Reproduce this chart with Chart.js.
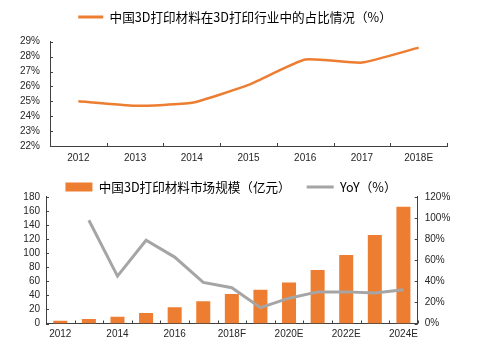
<!DOCTYPE html>
<html>
<head>
<meta charset="utf-8">
<script src="https://cdn.jsdelivr.net/npm/chart.js@4"></script>
<style>
  body { margin: 0; background: #fff; }
  #wrap { position: relative; width: 480px; height: 345px; }
  #top { position: absolute; left: 0; top: 0; }
  #bottom { position: absolute; left: 0; top: 172px; }
</style>
</head>
<body>
<div id="wrap">
  <canvas id="top" width="480" height="172"></canvas>
  <canvas id="bottom" width="480" height="173"></canvas>
</div>
<script>
// top chart: share of materials in the 3D printing industry (%)
const shareYears = ['2012', '2013', '2014', '2015', '2016', '2017', '2018E'];
const shareValues = [25.0, 24.7, 24.9, 26.1, 27.8, 27.6, 28.6];

// bottom chart: market size (100m yuan) and YoY (%)
const sizeYears = ['2012', '2013', '2014', '2015', '2016', '2017', '2018F', '2019E',
  '2020E', '2021E', '2022E', '2023E', '2024E'];
const sizeValues = [4, 6.5, 9.5, 15, 23, 31.5, 42, 48, 58.5, 76, 97.5, 126, 166];
const yoyValues = [null, 98, 45, 79, 63, 39, 34, 15, 24, 30, 30, 29, 32];

const orange = '#ED7D31';
const gray = '#A5A5A5';
const axisColor = '#404040';
const tickFont = { family: '"Liberation Sans", Arial, sans-serif', size: 10 };
const legendFont = { family: '"Noto Sans CJK SC", sans-serif', size: 12.6 };

Chart.defaults.animation = false;
Chart.defaults.color = '#262626';

// fixed legend height so the plot area lands where the reference has it,
// plus a small sideways nudge of the legend row
const legendBox = (h, dx) => ({
    id: 'legendBox',
    beforeInit(chart) {
        const fit = chart.legend.fit;
        chart.legend.fit = function () {
            fit.call(this);
            this.height = h;
        };
    },
    afterLayout(chart) {
        chart.legend.left += dx;
        chart.legend.right += dx;
    },
});

// short tick marks pointing into the plot
const innerTicks = {
    id: 'innerTicks',
    afterDraw(chart) {
        const ctx = chart.ctx;
        const { bottom, left, right } = chart.chartArea;
        const len = 3;
        ctx.save();
        ctx.strokeStyle = axisColor;
        ctx.lineWidth = 1;
        ctx.beginPath();
        const x = chart.scales.x;
        const n = chart.data.labels.length;
        for (let i = 0; i <= n; i++) {
            const px = Math.round(x.getPixelForValue(i - 0.5)) + 0.5;
            ctx.moveTo(px, bottom);
            ctx.lineTo(px, bottom - len);
        }
        Object.values(chart.scales).forEach((s) => {
            if (s.axis !== 'y') return;
            s.ticks.forEach((t) => {
                const py = Math.round(s.getPixelForValue(t.value)) + 0.5;
                if (s.position === 'left') {
                    ctx.moveTo(left, py);
                    ctx.lineTo(left + len, py);
                } else {
                    ctx.moveTo(right, py);
                    ctx.lineTo(right - len, py);
                }
            });
        });
        ctx.stroke();
        ctx.restore();
    },
};

const fixedWidth = (w) => (scale) => { scale.width = w; };
const fixedHeight = (h) => (scale) => { scale.height = h; };

new Chart(document.getElementById('top'), {
    type: 'line',
    data: {
        labels: shareYears,
        datasets: [{
            label: '中国3D打印材料在3D打印行业中的占比情况（%）',
            data: shareValues,
            borderColor: orange,
            backgroundColor: orange,
            borderWidth: 2.5,
            pointRadius: 0,
            tension: 0.15,
        }],
    },
    options: {
        responsive: false,
        layout: { padding: { left: 10, right: 33, top: 0, bottom: 0 } },
        plugins: {
            tooltip: { enabled: false },
            legend: {
                labels: {
                    font: legendFont,
                    color: '#262626',
                    padding: 10.7,
                    usePointStyle: true,
                    pointStyleWidth: 25,
                    generateLabels: (chart) => [{
                        text: chart.data.datasets[0].label,
                        fillStyle: orange,
                        strokeStyle: orange,
                        lineWidth: 3,
                        pointStyle: 'line',
                        datasetIndex: 0,
                    }],
                },
            },
        },
        scales: {
            x: {
                offset: true,
                grid: { display: false, drawTicks: false },
                border: { color: axisColor },
                ticks: { font: tickFont, padding: 6, maxRotation: 0 },
                afterFit: fixedHeight(26),
            },
            y: {
                min: 22,
                max: 29,
                grid: { display: false, drawTicks: false },
                border: { color: axisColor },
                ticks: {
                    font: tickFont, padding: 10, stepSize: 1, autoSkip: false,
                    callback: (v) => v + '%',
                },
                afterFit: fixedWidth(40),
            },
        },
    },
    plugins: [legendBox(41.7, 6.5), innerTicks],
});

new Chart(document.getElementById('bottom'), {
    type: 'bar',
    data: {
        labels: sizeYears,
        datasets: [{
            label: '中国3D打印材料市场规模（亿元）',
            data: sizeValues,
            backgroundColor: orange,
            borderWidth: 0,
            barPercentage: 0.98,
            categoryPercentage: 0.5,
            yAxisID: 'y',
            order: 1,
        }, {
            type: 'line',
            label: 'YoY（%）',
            data: yoyValues,
            borderColor: gray,
            backgroundColor: gray,
            borderWidth: 3,
            pointRadius: 0,
            tension: 0,
            yAxisID: 'y1',
            order: 0,
        }],
    },
    options: {
        responsive: false,
        layout: { padding: { left: 6, right: 30, top: -7.3, bottom: 0 } },
        plugins: {
            tooltip: { enabled: false },
            legend: {
                labels: {
                    font: legendFont,
                    color: '#262626',
                    padding: 16,
                    usePointStyle: true,
                    pointStyleWidth: 27,
                    boxHeight: 9,
                    generateLabels: (chart) => [{
                        text: chart.data.datasets[0].label,
                        fillStyle: orange,
                        strokeStyle: orange,
                        lineWidth: 0,
                        pointStyle: 'rect',
                        datasetIndex: 0,
                    }, {
                        text: chart.data.datasets[1].label,
                        fillStyle: gray,
                        strokeStyle: gray,
                        lineWidth: 3,
                        pointStyle: 'line',
                        datasetIndex: 1,
                    }],
                },
            },
        },
        scales: {
            x: {
                grid: { display: false, drawTicks: false },
                border: { color: axisColor },
                ticks: {
                    font: tickFont,
                    padding: 5,
                    maxRotation: 0,
                    autoSkip: false,
                    callback(v, i) { return i % 2 === 0 ? this.getLabelForValue(v) : ''; },
                },
                afterFit: fixedHeight(21.5),
            },
            y: {
                position: 'left',
                min: 0,
                max: 180,
                grid: { display: false, drawTicks: false },
                border: { color: axisColor },
                ticks: { font: tickFont, padding: 6, stepSize: 20, autoSkip: false },
                afterFit: fixedWidth(40),
            },
            y1: {
                position: 'right',
                min: 0,
                max: 120,
                grid: { display: false, drawTicks: false },
                border: { color: axisColor },
                ticks: {
                    font: tickFont, padding: 7, stepSize: 20, autoSkip: false,
                    callback: (v) => v + '%',
                },
                afterFit: fixedWidth(32.3),
            },
        },
    },
    plugins: [legendBox(32.3, 3), innerTicks],
});
</script>
</body>
</html>
